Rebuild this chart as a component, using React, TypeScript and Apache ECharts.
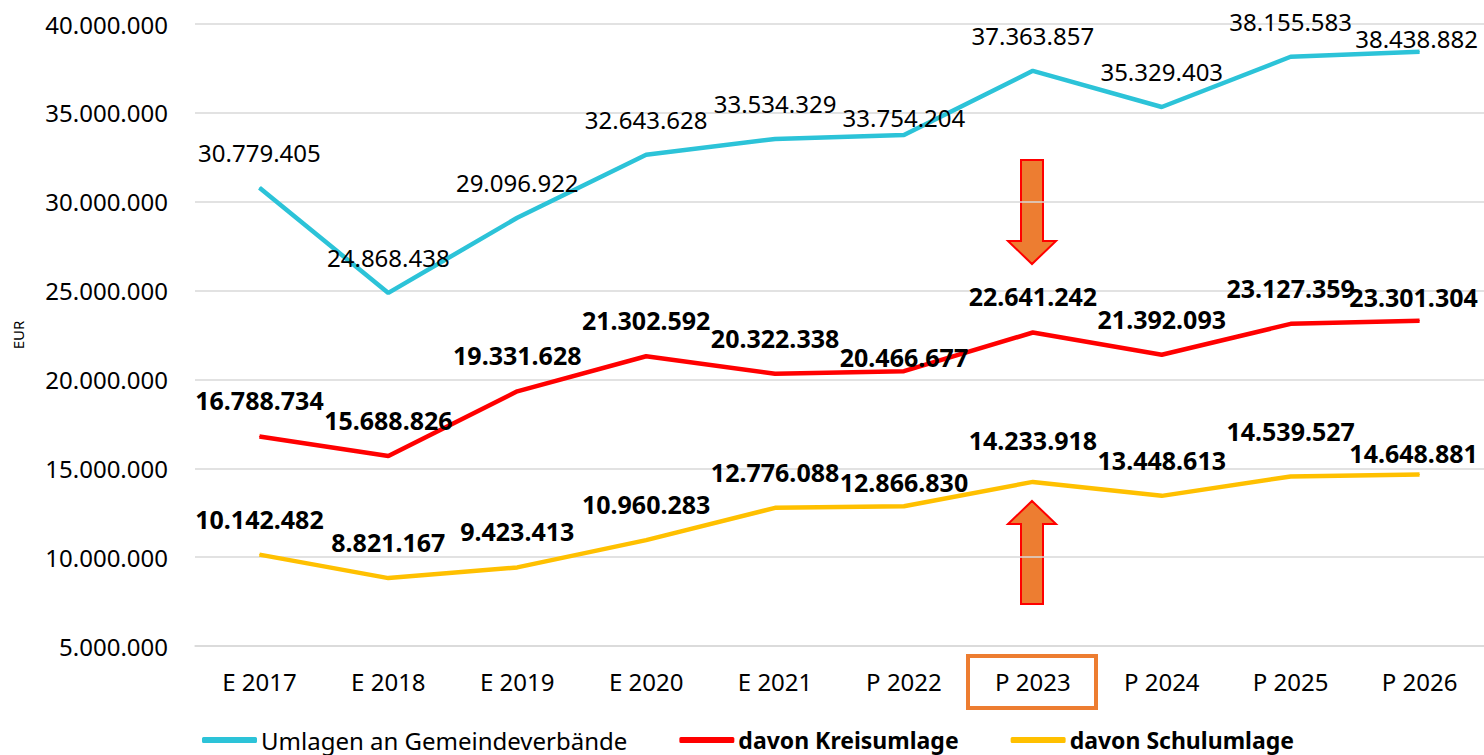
import React, { useEffect, useRef } from "react";
import * as echarts from "echarts";

const categories = ["E 2017", "E 2018", "E 2019", "E 2020", "E 2021", "P 2022", "P 2023", "P 2024", "P 2025", "P 2026"];
const umlagen = [30779405, 24868438, 29096922, 32643628, 33534329, 33754204, 37363857, 35329403, 38155583, 38438882];
const kreisumlage = [16788734, 15688826, 19331628, 21302592, 20322338, 20466677, 22641242, 21392093, 23127359, 23301304];
const schulumlage = [10142482, 8821167, 9423413, 10960283, 12776088, 12866830, 14233918, 13448613, 14539527, 14648881];
const seriesNames = ["Umlagen an Gemeindeverbände", "davon Kreisumlage", "davon Schulumlage"];

const FONT = "Noto Sans";
const fmt = (v: number) => Math.round(v).toString().replace(/\B(?=(\d{3})+(?!\d))/g, ".");

// label offset tweaks [dx, dy] per series index
const labelShift: Record<number, number[]>[] = [
  { 5: [0, 18], 9: [-3, 22] },
  { 5: [0, 22], 9: [-6, 12] },
  { 5: [0, 12], 6: [0, -6], 8: [0, -9], 9: [-6, 14] },
];

export default function App() {
  const ref = useRef<HTMLDivElement>(null);
  useEffect(() => {
    document.body.style.margin = "0";
    const chart = echarts.init(ref.current!, undefined, { renderer: "svg" });
    const colors = ["#2CC3D8", "#FF0000", "#FFC000"];
    const datasets = [umlagen, kreisumlage, schulumlage];
    const series = datasets.map((arr, si) => ({
      name: seriesNames[si],
      type: "line",
      data: arr.map((v, i) =>
        labelShift[si][i] !== undefined ? { value: v, label: { offset: labelShift[si][i] } } : v
      ),
      symbol: "circle",
      symbolSize: 1,
      showSymbol: true,
      lineStyle: { color: colors[si], width: 4.5 },
      itemStyle: { color: colors[si] },
      label: {
        show: true,
        position: "top",
        distance: 23,
        fontFamily: FONT,
        fontSize: si === 0 ? 24 : 25,
        fontWeight: si === 0 ? "normal" : "bold",
        color: "#000",
        formatter: (p: any) => fmt(p.value),
      },
      z: 3 - si,
    }));
    chart.setOption({
      animation: false,
      grid: { left: 195, right: 0, top: 24, bottom: 109 },
      xAxis: {
        type: "category",
        data: categories,
        boundaryGap: true,
        axisLine: { show: true, lineStyle: { color: "#D9D9D9", width: 1.5 } },
        axisTick: { show: false },
        axisLabel: { fontFamily: FONT, fontSize: 24, color: "#000", margin: 23, interval: 0 },
      },
      yAxis: {
        type: "value",
        min: 5000000,
        max: 40000000,
        interval: 5000000,
        name: "EUR",
        nameLocation: "middle",
        nameRotate: 90,
        nameGap: 170,
        nameTextStyle: { fontFamily: FONT, fontSize: 15, color: "#000" },
        axisLine: { show: false },
        axisTick: { show: false },
        splitLine: { lineStyle: { color: "#D9D9D9", width: 1.5 } },
        axisLabel: { fontFamily: FONT, fontSize: 24, color: "#000", margin: 27, formatter: (v: number) => fmt(v) },
      },
      legend: {
        left: 202,
        top: 728,
        padding: 0,
        itemGap: 52,
        itemWidth: 55,
        itemHeight: 6,
        icon: "roundRect",
        textStyle: { fontFamily: FONT, fontSize: 24, color: "#000", padding: [0, 0, 0, -1] },
        data: [
          { name: seriesNames[0], textStyle: { fontWeight: "normal", fontSize: 24 } },
          { name: seriesNames[1], textStyle: { fontWeight: "bold", fontSize: 23 } },
          { name: seriesNames[2], textStyle: { fontWeight: "bold", fontSize: 23 } },
        ],
      },
      graphic: [
        {
          type: "polygon",
          shape: { points: [[1021, 160], [1043, 160], [1043, 241], [1056, 241], [1032, 264], [1008, 241], [1021, 241]] },
          style: { fill: "#ED7D31", stroke: "#FF0000", lineWidth: 2 },
        },
        {
          type: "polygon",
          shape: { points: [[1032, 501], [1056, 524], [1043, 524], [1043, 604], [1021, 604], [1021, 524], [1008, 524]] },
          style: { fill: "#ED7D31", stroke: "#FF0000", lineWidth: 2 },
        },
        {
          type: "rect",
          shape: { x: 968, y: 656, width: 128, height: 52 },
          style: { fill: "none", stroke: "#ED7D31", lineWidth: 4 },
        },
      ],
      series,
    });
    return () => chart.dispose();
  }, []);
  return <div ref={ref} style={{ width: 1484, height: 755 }} />;
}
